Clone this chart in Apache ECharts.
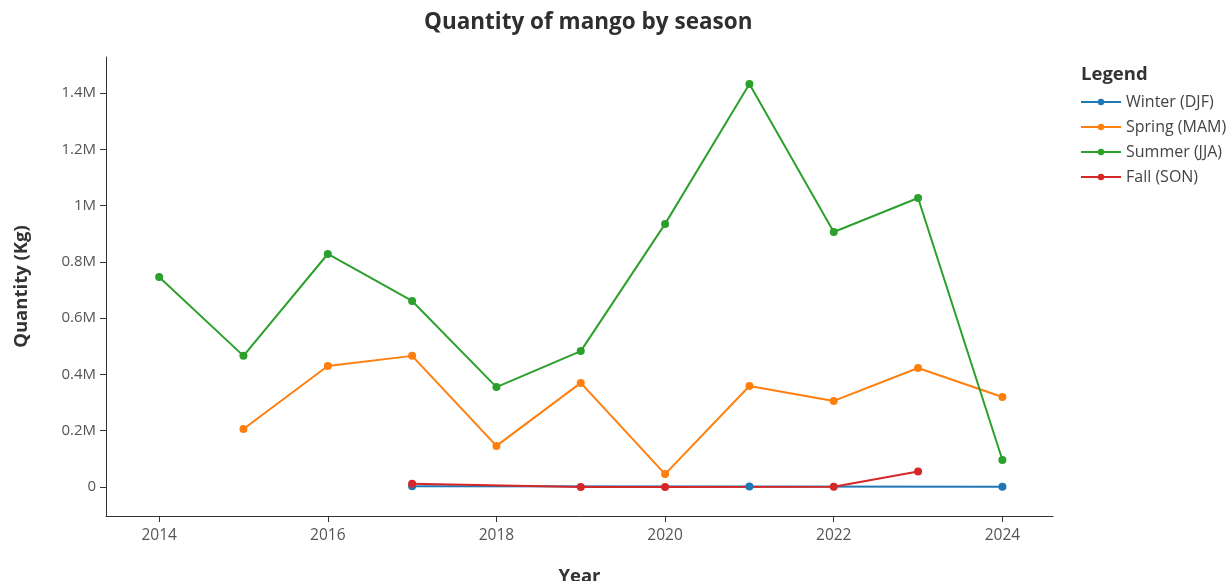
<!DOCTYPE html>
<html>
<head>
<meta charset="utf-8">
<title>Quantity of mango by season</title>
<script src="https://cdn.jsdelivr.net/npm/echarts@6/dist/echarts.min.js"></script>
<style>
  html, body { margin: 0; padding: 0; background: #fff; overflow: hidden; }
  #chart { width: 1227px; height: 581px; }
</style>
</head>
<body>
<div id="chart"></div>
<script>
// values (kg)
const winterYears = [2017, 2021, 2024];
const winterQty = [3000, 2000, 1000];
const springYears = [2015, 2016, 2017, 2018, 2019, 2020, 2021, 2022, 2023, 2024];
const springQty = [206000, 430000, 466000, 146000, 370000, 46000, 359000, 306000, 423000, 320000];
const summerYears = [2014, 2015, 2016, 2017, 2018, 2019, 2020, 2021, 2022, 2023, 2024];
const summerQty = [746000, 466000, 828000, 661000, 355000, 483000, 935000, 1432000, 906000, 1027000, 96000];
const fallYears = [2017, 2019, 2020, 2022, 2023];
const fallQty = [12000, 0, 0, 1000, 55000];

const xTicks = [2014, 2016, 2018, 2020, 2022, 2024];
const yTicks = [0, 200000, 400000, 600000, 800000, 1000000, 1200000, 1400000];
const yTickLabels = ['0', '0.2M', '0.4M', '0.6M', '0.8M', '1M', '1.2M', '1.4M'];

const seriesNames = ['Winter (DJF)', 'Spring (MAM)', 'Summer (JJA)', 'Fall (SON)'];
const colors = ['#1f77b4', '#ff7f0e', '#2ca02c', '#d62728'];

function pairs(xs, ys) {
  return xs.map((x, i) => [x, ys[i]]);
}

const chart = echarts.init(document.getElementById('chart'));
const font = '"Open Sans", "Noto Sans", sans-serif';

const allData = [
  pairs(winterYears, winterQty),
  pairs(springYears, springQty),
  pairs(summerYears, summerQty),
  pairs(fallYears, fallQty)
];

chart.setOption({
  animation: false,
  textStyle: { fontFamily: font },
  color: colors,
  title: [
    {
      text: 'Quantity of mango by season',
      left: 419,
      top: 6,
      textStyle: { fontFamily: font, fontSize: 22.5, fontWeight: 'bold', color: '#2f2f2f' }
    },
    {
      text: 'Legend',
      left: 1076,
      top: 60,
      textStyle: { fontFamily: font, fontSize: 18.5, fontWeight: 'bold', color: '#333' }
    }
  ],
  legend: {
    orient: 'vertical',
    left: 1080,
    top: 94,
    padding: 0,
    itemWidth: 40,
    itemHeight: 8,
    itemGap: 9,
    textStyle: { fontFamily: font, fontSize: 16, color: '#444' },
    data: seriesNames
  },
  grid: { left: 106, top: 57, width: 947, height: 459, containLabel: false, outerBoundsMode: 'none' },
  xAxis: {
    type: 'value',
    min: 2013.37,
    max: 2024.6,
    name: 'Year',
    nameLocation: 'middle',
    nameGap: 51,
    nameTextStyle: { fontFamily: font, fontSize: 18.5, fontWeight: 'bold', color: '#333' },
    axisLine: { show: true, onZero: false, lineStyle: { color: '#333', width: 1 } },
    axisTick: { show: true, length: 6, customValues: xTicks, lineStyle: { color: '#333' } },
    axisLabel: {
      customValues: xTicks,
      color: '#555',
      fontSize: 15.5,
      margin: 12,
      formatter: v => String(v)
    },
    splitLine: { show: false }
  },
  yAxis: {
    type: 'value',
    min: -103000,
    max: 1528000,
    name: 'Quantity (Kg)',
    nameLocation: 'middle',
    nameGap: 75,
    nameRotate: 90,
    nameTextStyle: { fontFamily: font, fontSize: 18.5, fontWeight: 'bold', color: '#333' },
    axisLine: { show: true, onZero: false, lineStyle: { color: '#333', width: 1 } },
    axisTick: { show: true, length: 6, customValues: yTicks, lineStyle: { color: '#333' } },
    axisLabel: {
      customValues: yTicks,
      color: '#555',
      fontSize: 15,
      margin: 10,
      formatter: v => yTickLabels[yTicks.indexOf(v)]
    },
    splitLine: { show: false }
  },
  series: seriesNames.map((name, i) => ({
    name: name,
    type: 'line',
    data: allData[i],
    symbol: 'circle',
    symbolSize: 8,
    lineStyle: { width: 2, color: colors[i] },
    itemStyle: { color: colors[i] }
  }))
});
</script>
</body>
</html>
